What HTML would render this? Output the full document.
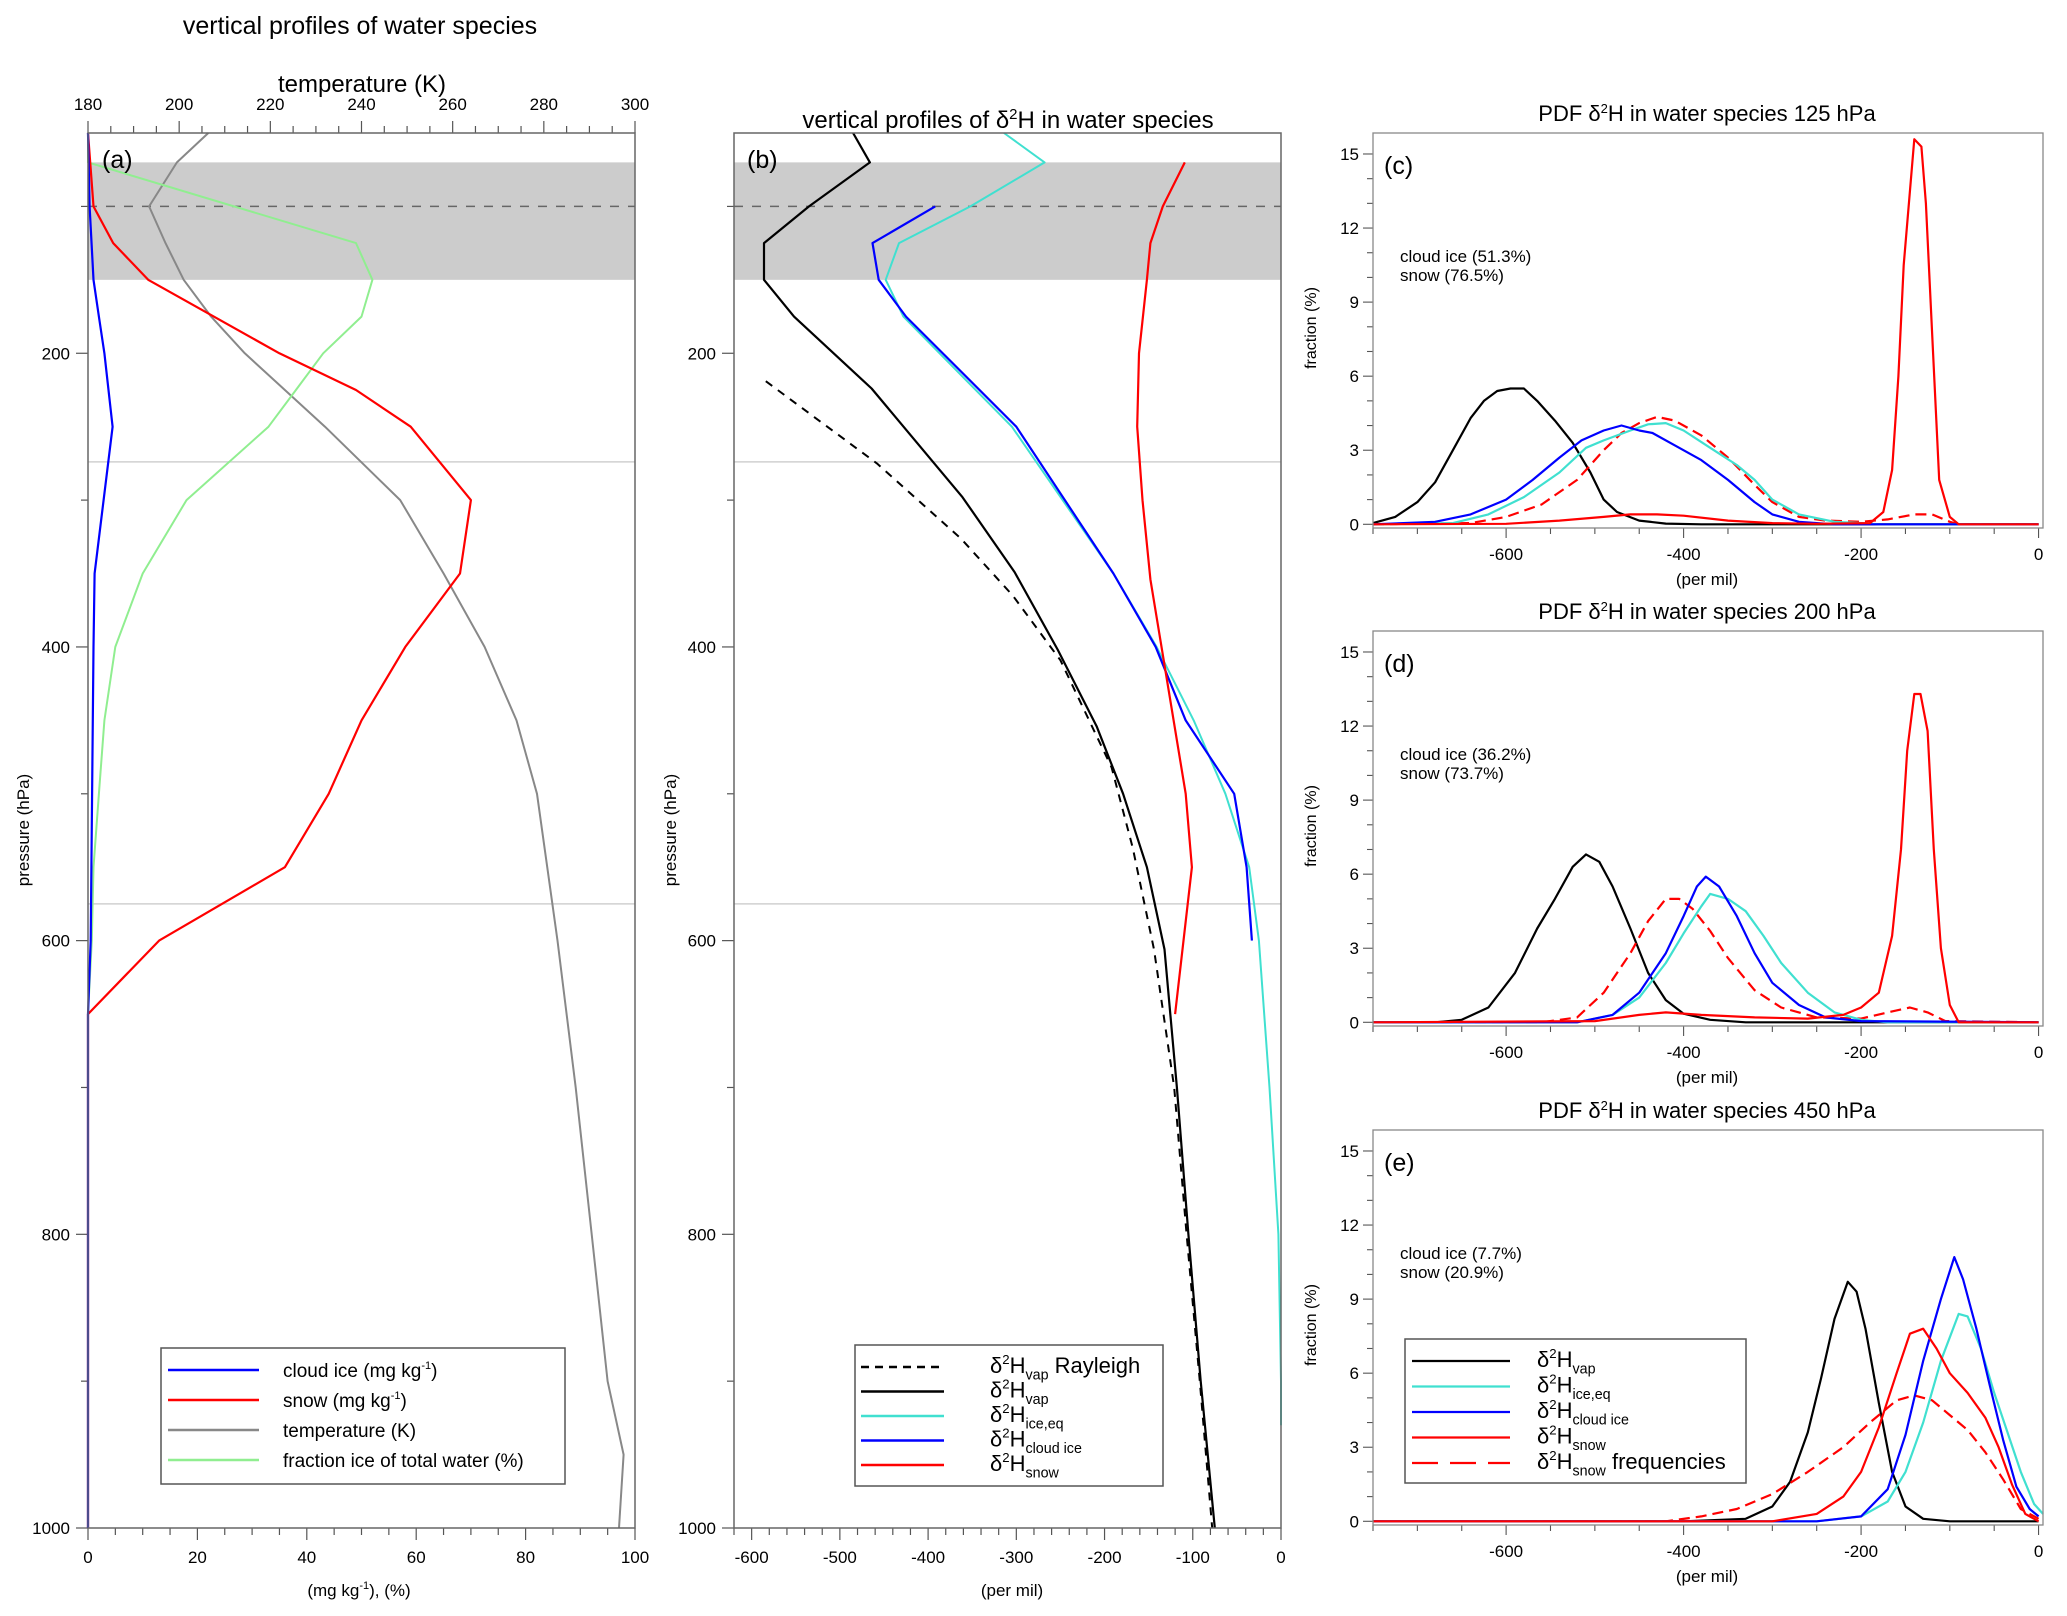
<!DOCTYPE html>
<html><head><meta charset="utf-8"><style>
html,body{margin:0;padding:0;background:#fff}
svg{display:block;font-family:"Liberation Sans Narrow","Liberation Sans",sans-serif}
</style></head><body>
<svg id="fig" width="2067" height="1616" viewBox="0 0 2067 1616" xmlns="http://www.w3.org/2000/svg"></svg>
<script>
// ---------- Panel (a) data ----------
const aIceP=[50,100,150,175,200,250,350,400,600,650,1000];
const aIceV=[0,0.3,1.0,2.0,3.0,4.5,1.2,1.0,0.5,0,0];
const aSnowP=[50,100,125,150,200,225,250,300,350,400,450,500,550,600,650,1000];
const aSnowV=[0,1,4.6,11,35,49,59,70,68,58,50,44,36,13,0,0];
const aFracP=[50,70,125,150,175,200,225,250,300,350,400,450,500,550,600,650,1000];
const aFracV=[0,0,49,52,50,43,38,33,18,10,5,3,2,1,0.7,0,0];
const aTempP=[50,70,100,125,150,175,200,250,300,350,400,450,500,600,700,800,900,950,1000];
const aTempV=[206.4,199.5,193.4,197,201,207,214.4,232,248.5,258,267,274,278.5,283,287,290.5,294,297.5,296.5];
// ---------- Panel (b) data ----------
const bVapP=[50,70,100,125,150,175,224,298,349,402,454,500,550,606,700,800,900,1000];
const bVapV=[-485,-466,-535,-586,-586,-552,-464,-361,-302,-253,-209,-179,-152,-132,-118,-105,-91,-75];
const bRayP=[219,275,326,365,409,482,537,606,700,800,900,1000];
const bRayV=[-584,-458,-363,-304,-250,-192,-168,-144,-121,-107,-92,-78];
const bEqP=[50,70,100,125,150,175,250,350,400,450,500,550,600,700,800,900,930];
const bEqV=[-314,-268,-352,-433,-448,-428,-305,-190,-141,-99,-63,-36,-25,-13,-3,0,0];
const bIceP=[100,125,150,175,250,350,400,450,500,550,600];
const bIceV=[-392,-463,-456,-425,-300,-190,-142,-108,-53,-39,-33];
const bSnowP=[70,100,125,150,200,250,300,354,500,550,650];
const bSnowV=[-109,-134,-148,-152,-161,-163,-157,-148,-108,-101,-120];
// ---------- Panel (c) data ----------
const cVapX=[-750,-725,-700,-680,-660,-640,-625,-610,-595,-580,-565,-545,-525,-505,-490,-475,-450,-420,-380,0];
const cVapY=[0.05,0.3,0.9,1.7,3,4.3,5.0,5.4,5.5,5.5,5.0,4.2,3.3,2.1,1.0,0.5,0.15,0.03,0,0];
const cIceX=[-750,-680,-640,-600,-570,-540,-515,-490,-470,-450,-435,-410,-380,-350,-320,-300,-270,-230,0];
const cIceY=[0,0.1,0.4,1.0,1.8,2.7,3.4,3.8,4.0,3.8,3.7,3.2,2.6,1.8,0.9,0.4,0.1,0,0];
const cEqX=[-750,-660,-620,-580,-540,-510,-490,-460,-440,-420,-400,-370,-340,-320,-300,-270,-230,-200,-180,0];
const cEqY=[0,0.05,0.4,1.1,2.1,3.1,3.4,3.8,4.05,4.1,3.8,3.1,2.4,1.8,1.0,0.4,0.1,0.05,0,0];
const cFreqX=[-750,-640,-600,-560,-520,-490,-470,-450,-430,-410,-380,-350,-320,-300,-270,-240,-200,-170,-140,-120,-100,-90,0];
const cFreqY=[0,0.05,0.3,0.8,1.8,3.0,3.7,4.1,4.35,4.2,3.6,2.7,1.6,0.9,0.3,0.15,0.1,0.2,0.4,0.4,0.1,0,0];
const cSnowX=[-750,-600,-540,-490,-460,-430,-400,-350,-300,-250,-190,-175,-165,-158,-152,-140,-132,-127,-119,-112,-100,-90,0];
const cSnowY=[0,0.02,0.15,0.3,0.4,0.4,0.35,0.15,0.05,0.02,0.05,0.5,2.2,6,10.5,15.6,15.3,13,7,1.8,0.3,0,0];
// ---------- Panel (d) data ----------
const dVapX=[-750,-680,-650,-620,-590,-565,-545,-525,-510,-495,-480,-460,-440,-420,-400,-370,-330,0];
const dVapY=[0,0,0.1,0.6,2,3.8,5,6.3,6.8,6.5,5.5,3.8,2.0,0.9,0.35,0.1,0,0];
const dIceX=[-750,-520,-480,-450,-420,-400,-385,-375,-360,-340,-320,-300,-270,-240,-200,0];
const dIceY=[0,0,0.3,1.2,2.8,4.3,5.5,5.9,5.5,4.3,2.8,1.6,0.7,0.2,0.05,0];
const dEqX=[-750,-520,-480,-450,-420,-400,-380,-370,-350,-330,-310,-290,-260,-230,-200,-170,0];
const dEqY=[0,0,0.3,1.0,2.4,3.6,4.7,5.2,5.0,4.5,3.5,2.4,1.2,0.4,0.1,0,0];
const dFreqX=[-750,-560,-520,-490,-460,-440,-420,-405,-390,-370,-350,-320,-290,-250,-200,-170,-145,-125,-105,0];
const dFreqY=[0,0,0.2,1.2,2.8,4.1,5.0,5.0,4.6,3.7,2.6,1.3,0.6,0.2,0.15,0.4,0.6,0.4,0.05,0];
const dSnowX=[-750,-500,-450,-420,-380,-320,-260,-220,-200,-180,-165,-155,-148,-140,-133,-125,-118,-110,-100,-90,0];
const dSnowY=[0,0.05,0.3,0.4,0.3,0.2,0.15,0.3,0.6,1.2,3.5,7,11,13.3,13.3,11.8,7,3,0.7,0,0];
// ---------- Panel (e) data ----------
const eVapX=[-750,-400,-330,-300,-280,-260,-245,-230,-215,-205,-195,-180,-165,-150,-130,-100,0];
const eVapY=[0,0,0.1,0.6,1.6,3.6,5.8,8.2,9.7,9.3,7.8,4.8,2.0,0.6,0.1,0,0];
const eIceX=[-750,-250,-200,-170,-150,-130,-110,-95,-85,-70,-55,-40,-25,-10,0];
const eIceY=[0,0,0.2,1.3,3.5,6.5,9,10.7,9.8,7.8,5.5,3.3,1.4,0.5,0.2];
const eEqX=[-750,-250,-200,-170,-150,-130,-110,-90,-80,-65,-50,-35,-20,-5,5];
const eEqY=[0,0,0.2,0.8,2,4,6.5,8.4,8.3,7,5.2,3.6,2,0.7,0.3];
const eSnowX=[-750,-300,-250,-220,-200,-180,-160,-145,-130,-115,-100,-80,-60,-45,-30,-15,0];
const eSnowY=[0,0,0.3,1.0,2,3.8,6,7.6,7.8,7,6,5.2,4.2,3,1.5,0.3,0];
const eFreqX=[-750,-420,-380,-340,-300,-260,-220,-190,-160,-140,-120,-100,-80,-60,-40,-20,0];
const eFreqY=[0,0,0.2,0.5,1.1,2.0,3.0,4.0,4.9,5.1,4.9,4.3,3.7,2.8,1.7,0.5,0.1];
// tick label arrays
const pTicks=[200,400,600,800,1000];
const aXTicks=[0,20,40,60,80,100];
const tTicks=[180,200,220,240,260,280,300];
const bXTicks=[-600,-500,-400,-300,-200,-100,0];
const pdfXTicks=[-600,-400,-200,0];
const pdfYTicks=[0,3,6,9,12,15];

const NS="http://www.w3.org/2000/svg";
const svg=document.getElementById('fig');
function mk(tag,attrs,parent){const e=document.createElementNS(NS,tag);for(const k in attrs)e.setAttribute(k,attrs[k]);(parent||svg).appendChild(e);return e;}
function txt(x,y,s,size,anchor,parent,extra){const e=mk('text',Object.assign({x:x,y:y,'font-size':size,'text-anchor':anchor||'middle',fill:'#000'},extra||{}),parent);e.textContent=s;return e;}
function poly(xs,ys,fx,fy,color,w,dash,parent){const pts=xs.map((v,i)=>fx(v).toFixed(1)+','+fy(ys[i]).toFixed(1)).join(' ');const a={points:pts,fill:'none',stroke:color,'stroke-width':w,'stroke-linejoin':'round'};if(dash)a['stroke-dasharray']=dash;return mk('polyline',a,parent);}
function dH(parent,x,y,size,sub,after){const t=mk('text',{x:x,y:y,'font-size':size,fill:'#000','font-family':'Liberation Sans, sans-serif'},parent);
 const a=mk('tspan',{},t);a.textContent='δ';
 const b=mk('tspan',{dy:-size*0.4,'font-size':size*0.6},t);b.textContent='2';
 const c=mk('tspan',{dy:size*0.4},t);c.textContent='H';
 const d=mk('tspan',{dy:size*0.3,'font-size':size*0.65},t);d.textContent=sub;
 if(after){const f=mk('tspan',{dy:-size*0.3},t);f.textContent=after;}
 return t;}

// ---------- Panel (a) ----------
const A={l:88,r:635,t:133,b:1528};
const xa=v=>A.l+v/100*(A.r-A.l);
const xT=t=>A.l+(t-180)/120*(A.r-A.l);
const yP=p=>A.t+(p-50)/950*(A.b-A.t);
const gA=mk('g',{});


function shade(g,L,R){
 mk('rect',{x:L,y:yP(70),width:R-L,height:yP(150)-yP(70),fill:'#cccccc'},g);
 mk('line',{x1:L,x2:R,y1:yP(100),y2:yP(100),stroke:'#666','stroke-width':1.5,'stroke-dasharray':'9,9'},g);
 mk('line',{x1:L,x2:R,y1:yP(274),y2:yP(274),stroke:'#d0d0d0','stroke-width':1.5},g);
 mk('line',{x1:L,x2:R,y1:yP(575),y2:yP(575),stroke:'#d0d0d0','stroke-width':1.5},g);
}
shade(gA,A.l,A.r);
txt(360,34,'vertical profiles of water species',25,'middle',gA);
txt(362,92,'temperature (K)',24,'middle',gA);
tTicks.forEach(t=>txt(xT(t),110,String(t),17,'middle',gA));
for(let t=180;t<=300;t+=5){mk('line',{x1:xT(t),x2:xT(t),y1:A.t,y2:A.t-(t%20==0?12:7),stroke:'#555','stroke-width':1.2},gA);}
for(let v=0;v<=100;v+=5){mk('line',{x1:xa(v),x2:xa(v),y1:A.b,y2:A.b+(v%20==0?12:7),stroke:'#555','stroke-width':1.2},gA);}
aXTicks.forEach(v=>txt(xa(v),1563,String(v),17,'middle',gA));
function pTicksDraw(g,L){for(let p=100;p<=1000;p+=100){mk('line',{x1:L,x2:L-(p%200==0?12:7),y1:yP(p),y2:yP(p),stroke:'#555','stroke-width':1.2},g);}
 pTicks.forEach(p=>txt(L-18,yP(p)+6,String(p),17,'end',g));}
pTicksDraw(gA,A.l);
txt(0,0,'pressure (hPa)',17,'middle',gA,{transform:'translate(29,830) rotate(-90)'});
const xl=mk('text',{x:359,y:1596,'font-size':17,'text-anchor':'middle'},gA);
{const s1=mk('tspan',{},xl);s1.textContent='(mg kg';const s2=mk('tspan',{dy:-7,'font-size':11},xl);s2.textContent='-1';const s3=mk('tspan',{dy:7},xl);s3.textContent='), (%)';}
poly(aTempV,aTempP,xT,yP,'#888',2,null,gA);
poly(aFracV,aFracP,xa,yP,'#90ee90',2,null,gA);
poly(aSnowV,aSnowP,xa,yP,'#ff0000',2.2,null,gA);
poly(aIceV,aIceP,xa,yP,'#0000ff',2.2,null,gA);
mk('rect',{x:A.l,y:A.t,width:A.r-A.l,height:A.b-A.t,fill:'none',stroke:'#666','stroke-width':1.5},gA);
txt(102,168,'(a)',25,'start',gA);
const lgA=mk('g',{},gA);


mk('rect',{x:161,y:1348,width:404,height:136,fill:'#fff',stroke:'#555','stroke-width':1.5},lgA);
[['#0000ff','cloud ice (mg kg','-1',')'],['#ff0000','snow (mg kg','-1',')'],['#888','temperature (K)','',''],['#90ee90','fraction ice of total water (%)','','']].forEach((it,i)=>{
 const y=1370+i*30;
 mk('line',{x1:168,x2:259,y1:y,y2:y,stroke:it[0],'stroke-width':2.5},lgA);
 const t=mk('text',{x:283,y:y+7,'font-size':19},lgA);
 const a=mk('tspan',{},t);a.textContent=it[1];
 if(it[2]){const b=mk('tspan',{dy:-8,'font-size':11},t);b.textContent=it[2];const c=mk('tspan',{dy:8},t);c.textContent=it[3];}
});

// ---------- Panel (b) ----------
const B={l:734,r:1281,t:133,b:1528};
const xb=v=>B.r+v/620*(B.r-B.l);
const gB=mk('g',{});


shade(gB,B.l,B.r);
const tb=mk('text',{x:1008,y:128,'font-size':24,'text-anchor':'middle'},gB);
{const a=mk('tspan',{},tb);a.textContent='vertical profiles of δ';const b=mk('tspan',{dy:-9,'font-size':15},tb);b.textContent='2';const c=mk('tspan',{dy:9},tb);c.textContent='H in water species';}
pTicksDraw(gB,B.l);
for(let v=-620;v<=0;v+=20){mk('line',{x1:xb(v),x2:xb(v),y1:B.b,y2:B.b+(v%100==0?12:7),stroke:'#555','stroke-width':1.2},gB);}
bXTicks.forEach(v=>txt(xb(v),1563,String(v),17,'middle',gB));
txt(1012,1596,'(per mil)',17,'middle',gB);
txt(0,0,'pressure (hPa)',17,'middle',gB,{transform:'translate(676,830) rotate(-90)'});
poly(bRayV,bRayP,xb,yP,'#000',2,'8,7',gB);
poly(bVapV,bVapP,xb,yP,'#000',2.2,null,gB);
poly(bEqV,bEqP,xb,yP,'#40e0d0',2,null,gB);
poly(bIceV,bIceP,xb,yP,'#0000ff',2.2,null,gB);
poly(bSnowV,bSnowP,xb,yP,'#ff0000',2.2,null,gB);
mk('rect',{x:B.l,y:B.t,width:B.r-B.l,height:B.b-B.t,fill:'none',stroke:'#666','stroke-width':1.5},gB);
txt(747,168,'(b)',25,'start',gB);
const lgB=mk('g',{},gB);


mk('rect',{x:855,y:1345,width:308,height:141,fill:'#fff',stroke:'#555','stroke-width':1.5},lgB);
[['#000','8,6','vap',' Rayleigh'],['#000',null,'vap',''],['#40e0d0',null,'ice,eq',''],['#0000ff',null,'cloud ice',''],['#ff0000',null,'snow','']].forEach((it,i)=>{
 const y=1367+i*24.5;
 const l=mk('line',{x1:861,x2:944,y1:y,y2:y,stroke:it[0],'stroke-width':2.5},lgB);
 if(it[1])l.setAttribute('stroke-dasharray',it[1]);
 dH(lgB,990,y+6,22,it[2],it[3]);
});

// ---------- PDF panels ----------
function pdf(top,label,title,ann,series,name){
 const P={l:1373,r:2043,t:top,b:top+395};
 const fx=v=>P.l+(v+750)/755*(P.r-P.l);
 const fy=v=>P.b-(v+0.15)/16*(P.b-P.t);
 const g=mk('g',{});
 
 
 const tt=mk('text',{x:1707,y:top-12,'font-size':22,'text-anchor':'middle'},g);
 {const a=mk('tspan',{},tt);a.textContent='PDF δ';const b=mk('tspan',{dy:-8,'font-size':13},tt);b.textContent='2';const c=mk('tspan',{dy:8},tt);c.textContent='H in water species '+title;}
 for(let v=0;v<=15;v++){mk('line',{x1:P.l,x2:P.l-(v%3==0?10:6),y1:fy(v),y2:fy(v),stroke:'#555','stroke-width':1.1},g);}
 pdfYTicks.forEach(v=>txt(P.l-14,fy(v)+6,String(v),17,'end',g));
 for(let v=-750;v<=0;v+=50){mk('line',{x1:fx(v),x2:fx(v),y1:P.b,y2:P.b+(v%200==0?10:6),stroke:'#555','stroke-width':1.1},g);}
 pdfXTicks.forEach(v=>txt(fx(v),P.b+32,String(v),17,'middle',g));
 txt(1707,P.b+57,'(per mil)',17,'middle',g);
 txt(0,0,'fraction (%)',16,'middle',g,{transform:'translate(1316,'+(top+195)+') rotate(-90)'});
 series.forEach(s=>{const p=poly(s[0],s[1],fx,fy,s[2],2.2,s[3],g);});
 mk('rect',{x:P.l,y:P.t,width:P.r-P.l,height:P.b-P.t,fill:'none',stroke:'#888','stroke-width':1.3},g);
 txt(1384,top+41,label,25,'start',g);
 txt(1400,top+129,ann[0],17,'start',g);
 txt(1400,top+148,ann[1],17,'start',g);
 return g;}
pdf(133,'(c)','125 hPa',['cloud ice (51.3%)','snow (76.5%)'],[
 [cVapX,cVapY,'#000',null,'vap-pdf-c'],[cFreqX,cFreqY,'#ff0000','11,6','snow-freq-pdf-c'],[cEqX,cEqY,'#40e0d0',null,'ice-eq-pdf-c'],[cIceX,cIceY,'#0000ff',null,'cloud-ice-pdf-c'],[cSnowX,cSnowY,'#ff0000',null,'snow-pdf-c']],'panel-c');
pdf(631,'(d)','200 hPa',['cloud ice (36.2%)','snow (73.7%)'],[
 [dVapX,dVapY,'#000',null,'vap-pdf-d'],[dFreqX,dFreqY,'#ff0000','11,6','snow-freq-pdf-d'],[dEqX,dEqY,'#40e0d0',null,'ice-eq-pdf-d'],[dIceX,dIceY,'#0000ff',null,'cloud-ice-pdf-d'],[dSnowX,dSnowY,'#ff0000',null,'snow-pdf-d']],'panel-d');
const gE=pdf(1130,'(e)','450 hPa',['cloud ice (7.7%)','snow (20.9%)'],[
 [eVapX,eVapY,'#000',null,'vap-pdf-e'],[eFreqX,eFreqY,'#ff0000','11,6','snow-freq-pdf-e'],[eEqX,eEqY,'#40e0d0',null,'ice-eq-pdf-e'],[eIceX,eIceY,'#0000ff',null,'cloud-ice-pdf-e'],[eSnowX,eSnowY,'#ff0000',null,'snow-pdf-e']],'panel-e');
const lgE=mk('g',{},gE);


mk('rect',{x:1405,y:1339,width:341,height:144,fill:'#fff',stroke:'#555','stroke-width':1.5},lgE);
[['#000',null,'vap',''],['#40e0d0',null,'ice,eq',''],['#0000ff',null,'cloud ice',''],['#ff0000',null,'snow',''],['#ff0000','26,12','snow','  frequencies']].forEach((it,i)=>{
 const y=1361+i*25.5;
 const l=mk('line',{x1:1412,x2:1510,y1:y,y2:y,stroke:it[0],'stroke-width':2.2},lgE);
 if(it[1])l.setAttribute('stroke-dasharray',it[1]);
 dH(lgE,1537,y+6,22,it[2],it[3]);
});
</script>
</body></html>
